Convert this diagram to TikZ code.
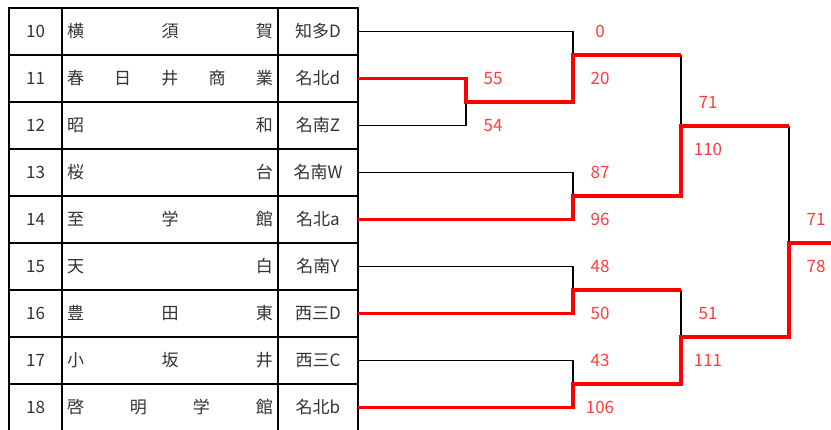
\documentclass[tikz,border=0pt]{standalone}
\usepackage{fontspec}
\setmainfont{Noto Sans CJK JP}
\definecolor{scorered}{RGB}{255,60,60}
\tikzset{
    cell/.style={draw, line width=2pt, minimum height=47pt, inner sep=0pt, outer sep=0pt, text=black!80},
    numcell/.style={cell, minimum width=53pt},
    namecell/.style={cell, minimum width=216pt},
    leaguecell/.style={cell, minimum width=80pt},
    lose/.style={black, line width=1.6pt},
    win/.style={red, line width=3.5pt},
    score/.style={text=scorered},
}
\begin{document}
\begin{tikzpicture}[x=1pt, y=-1pt, font=\fontsize{17}{20}\selectfont]
        \useasboundingbox (0,0) rectangle (831,430);
        % table of teams
        \foreach \i/\name/\lg [count=\k from 0] in {
            10/{横\hfill 須\hfill 賀}/知多D,
            11/{春\hfill 日\hfill 井\hfill 商\hfill 業}/名北d,
            12/{昭\hfill 和}/名南Z,
            13/{桜\hfill 台}/名南W,
            14/{至\hfill 学\hfill 館}/名北a,
            15/{天\hfill 白}/名南Y,
            16/{豊\hfill 田\hfill 東}/西三D,
            17/{小\hfill 坂\hfill 井}/西三C,
            18/{啓\hfill 明\hfill 学\hfill 館}/名北b} {
            \node[numcell] (n\i) at (35.5,31.5+47*\k) {\i};
            \node[namecell] (s\i) at (170,31.5+47*\k) {\makebox[206pt][s]{\name}};
            \node[leaguecell] (l\i) at (318,31.5+47*\k) {\lg};
        }
        % match points
        \coordinate (m1) at (466,102);
        \coordinate (m2) at (573,55);
        \coordinate (m3) at (573,196);
        \coordinate (m4) at (573,290);
        \coordinate (m5) at (573,384);
        \coordinate (m6) at (681,126);
        \coordinate (m7) at (681,337);
        \coordinate (m8) at (789,243);
        \coordinate (champ) at (831,243);
        % losers
        \draw[lose] (l12.east) -| (m1);
        \draw[lose] (l10.east) -| (m2);
        \draw[lose] (l13.east) -| (m3);
        \draw[lose] (l15.east) -| (m4);
        \draw[lose] (l17.east) -| (m5);
        \draw[lose] (m2 -| m6) -- (m6);
        \draw[lose] (m4 -| m7) -- (m7);
        \draw[lose] (m6 -| m8) -- (m8);
        % winners
        \draw[win] (l11.east) -| (m1) -| (m2) -- (m2 -| m6);
        \draw[win] (l14.east) -| (m3) -| (m6) -- (m6 -| m8);
        \draw[win] (l16.east) -| (m4) -- (m4 -| m7);
        \draw[win] (l18.east) -| (m5) -| (m7) -| (m8) -- (champ);
        % scores
        \foreach \m/\a/\b in {m1/55/54, m2/0/20, m3/87/96, m4/48/50, m5/43/106, m6/71/110, m7/51/111, m8/71/78} {
            \node[score] (\m a) at ([shift={(27,-23.5)}]\m) {\a};
            \node[score] (\m b) at ([shift={(27,23.5)}]\m) {\b};
        }
\end{tikzpicture}
\end{document}
